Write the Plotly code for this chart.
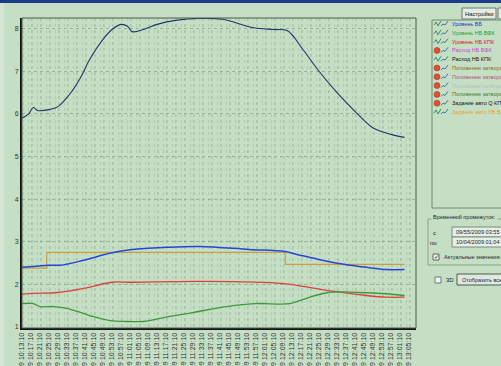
import plotly.graph_objects as go

DATE = "2009-10-04 "

# Series (times HH:MM, seconds :10)
top_t = ["10:13","10:16","10:18","10:20","10:25","10:29","10:34","10:39","10:43","10:49","10:53","10:57","11:00","11:02","11:07","11:13","11:22","11:32","11:42","11:56","12:05","12:11","12:18","12:25","12:33","12:44","12:45","12:49","12:57","13:03"]
top_v = [5.9,6.0,6.15,6.08,6.1,6.17,6.45,6.85,7.27,7.75,7.98,8.1,8.05,7.93,7.98,8.1,8.2,8.24,8.22,8.02,7.98,7.95,7.5,7.0,6.5,5.9,5.85,5.67,5.52,5.45]

blue_t = ["10:13","10:18","10:25","10:30","10:40","10:52","11:02","11:17","11:32","11:54","12:10","12:17","12:27","12:36","12:46","12:55","13:03"]
blue_v = [2.4,2.42,2.45,2.45,2.56,2.73,2.82,2.87,2.89,2.82,2.77,2.68,2.56,2.47,2.4,2.35,2.35]

tan_t = ["10:13","10:24","12:10","13:03"]
tan_v = [2.38,2.75,2.47,2.47]

red_t = ["10:13","10:18","10:29","10:40","10:53","11:02","11:32","12:09","12:24","12:31","12:46","12:55","13:03"]
red_v = [1.77,1.79,1.81,1.9,2.05,2.05,2.07,2.02,1.9,1.84,1.74,1.7,1.7]

green_t = ["10:13","10:18","10:21","10:27","10:33","10:43","10:52","11:00","11:07","11:17","11:25","11:32","11:47","11:57","12:12","12:18","12:29","12:43","12:55","13:03"]
green_v = [1.55,1.55,1.48,1.48,1.44,1.27,1.15,1.13,1.13,1.23,1.3,1.37,1.5,1.55,1.55,1.65,1.81,1.81,1.78,1.74]

legend_names = ["Уровень ВБ","Уровень НБ ВФК","Уровень НБ КПК","Расход НБ ВФК","Расход НБ КПК",
                "Положение затвора","Положение затвора","Положение затвора","Положение затвора",
                "Задание авто Q КПК","Задание авто УВ ВФК"]
legend_colors = ["#1f2fd0","#2e9a2e","#d02020","#d040d0","#111111",
                 "#8a6a30","#b05080","#b8c0b8","#4a7a3a","#111111","#f0a020"]
legend_icon_red = [False,False,False,True,False,True,True,True,True,True,False]

def ts(lst):
    return [DATE + t + ":10" for t in lst]

BG = "#c5dfc5"
fig = go.Figure()
fig.add_trace(go.Scatter(x=ts(top_t), y=top_v, mode="lines", line=dict(color="#23336e", width=1.1), line_shape="spline"))
fig.add_trace(go.Scatter(x=ts(tan_t), y=tan_v, mode="lines", line=dict(color="#c8a040", width=1.2), line_shape="hv"))
fig.add_trace(go.Scatter(x=ts(blue_t), y=blue_v, mode="lines", line=dict(color="#2a44d8", width=1.5), line_shape="spline"))
fig.add_trace(go.Scatter(x=ts(red_t), y=red_v, mode="lines", line=dict(color="#e04040", width=1.3), line_shape="spline"))
fig.add_trace(go.Scatter(x=ts(green_t), y=green_v, mode="lines", line=dict(color="#3a9a3a", width=1.3), line_shape="spline"))

L, R, T, B = 22, 416, 18, 328
def px(x):
    return (x - L) / (R - L)
def py(y):
    return (B - y) / (B - T)

shapes = []
annots = []
# title bar and left window edge
shapes.append(dict(type="rect", xref="paper", yref="paper", x0=px(0), x1=px(501), y0=py(3), y1=py(0),
                   fillcolor="#1c3a8a", line=dict(width=0), layer="below"))
shapes.append(dict(type="rect", xref="paper", yref="paper", x0=px(0), x1=px(4), y0=py(366), y1=py(3),
                   fillcolor="#d6e4d6", line=dict(width=0), layer="below"))
# Настройки button
shapes.append(dict(type="rect", xref="paper", yref="paper", x0=px(462), x1=px(496), y0=py(19), y1=py(8),
                   fillcolor="#e4ece4", line=dict(color="#6a7a6a", width=1)))
annots.append(dict(x=px(479), y=py(13.5), xref="paper", yref="paper", text="Настройки", showarrow=False,
                   font=dict(size=5.8, color="#111"), xanchor="center", yanchor="middle"))
shapes.append(dict(type="rect", xref="paper", yref="paper", x0=px(498), x1=px(505), y0=py(19), y1=py(8),
                   fillcolor="#e4ece4", line=dict(color="#6a7a6a", width=1)))
# list box
shapes.append(dict(type="rect", xref="paper", yref="paper", x0=px(432), x1=px(510), y0=py(208), y1=py(20),
                   fillcolor=BG, line=dict(color="#6f8a6f", width=1)))
for i, (nm, col, red) in enumerate(zip(legend_names, legend_colors, legend_icon_red)):
    yy = 24 + i * 8.8
    if red:
        shapes.append(dict(type="circle", xref="paper", yref="paper", x0=px(434), x1=px(440), y0=py(yy + 3), y1=py(yy - 3),
                           fillcolor="#e05030", line=dict(color="#a03020", width=0.5)))
    else:
        shapes.append(dict(type="path", xref="paper", yref="paper",
                           path=f"M {px(434)} {py(yy+1)} L {px(436)} {py(yy-2)} L {px(438)} {py(yy+2)} L {px(441)} {py(yy-3)}",
                           line=dict(color="#3a8a6a", width=1)))
    shapes.append(dict(type="path", xref="paper", yref="paper",
                       path=f"M {px(441)} {py(yy+2)} L {px(443)} {py(yy)} L {px(445)} {py(yy+1)} L {px(448)} {py(yy-3)}",
                       line=dict(color="#3a7a9a", width=1)))
    annots.append(dict(x=px(450), y=py(yy), xref="paper", yref="paper", text=nm, showarrow=False,
                       font=dict(size=5.5, color=col), xanchor="left", yanchor="middle"))
# group box
shapes.append(dict(type="rect", xref="paper", yref="paper", x0=px(428), x1=px(510), y0=py(265), y1=py(219),
                   fillcolor="rgba(0,0,0,0)", line=dict(color="#8aa08a", width=1)))
annots.append(dict(x=px(431), y=py(217), xref="paper", yref="paper", text="Временной промежуток:", showarrow=False,
                   font=dict(size=5.5, color="#223"), xanchor="left", yanchor="middle", bgcolor=BG))
annots.append(dict(x=px(431), y=py(232), xref="paper", yref="paper", text="с", showarrow=False,
                   font=dict(size=6.2, color="#223"), xanchor="left", yanchor="middle"))
annots.append(dict(x=px(428), y=py(242), xref="paper", yref="paper", text="по", showarrow=False,
                   font=dict(size=6.2, color="#223"), xanchor="left", yanchor="middle"))
for (y0, y1, txt) in [(227, 237, "09/55/2009 03:55"), (237, 247, "10/04/2009 01:04")]:
    shapes.append(dict(type="rect", xref="paper", yref="paper", x0=px(452), x1=px(510), y0=py(y1), y1=py(y0),
                       fillcolor="#e6efe6", line=dict(color="#7a8a7a", width=1)))
    annots.append(dict(x=px(454), y=py((y0 + y1) / 2), xref="paper", yref="paper", text=txt, showarrow=False,
                       font=dict(size=5.6, color="#222"), xanchor="left", yanchor="middle"))
shapes.append(dict(type="rect", xref="paper", yref="paper", x0=px(433), x1=px(439), y0=py(260), y1=py(254),
                   fillcolor="#eef4ee", line=dict(color="#5a6a5a", width=1)))
annots.append(dict(x=px(436), y=py(257), xref="paper", yref="paper", text="✓", showarrow=False,
                   font=dict(size=6, color="#111"), xanchor="center", yanchor="middle"))
annots.append(dict(x=px(442), y=py(257), xref="paper", yref="paper", text="Актуальные значения", showarrow=False,
                   font=dict(size=5.5, color="#223"), xanchor="left", yanchor="middle"))
# 3D checkbox and button
shapes.append(dict(type="rect", xref="paper", yref="paper", x0=px(435), x1=px(441), y0=py(283), y1=py(277),
                   fillcolor="#f4f8f4", line=dict(color="#6a7a6a", width=1)))
annots.append(dict(x=px(444), y=py(280), xref="paper", yref="paper", text="3D", showarrow=False,
                   font=dict(size=6, color="#223"), xanchor="left", yanchor="middle"))
shapes.append(dict(type="rect", xref="paper", yref="paper", x0=px(457), x1=px(510), y0=py(285), y1=py(274),
                   fillcolor="#dfe8df", line=dict(color="#4a5a4a", width=1)))
annots.append(dict(x=px(460), y=py(279.5), xref="paper", yref="paper", text="Отобразить все", showarrow=False,
                   font=dict(size=5.5, color="#223"), xanchor="left", yanchor="middle"))
# plot border (top/right)
shapes.append(dict(type="rect", xref="paper", yref="paper", x0=0, x1=1, y0=0, y1=1,
                   line=dict(color="#4a5a4a", width=1), fillcolor="rgba(0,0,0,0)"))

fig.update_layout(
    width=501, height=366,
    margin=dict(l=L, r=501 - R, t=T, b=366 - B, autoexpand=False),
    paper_bgcolor=BG, plot_bgcolor=BG,
    showlegend=False,
    font=dict(family="Liberation Sans, Arial", size=7, color="#222"),
    shapes=shapes, annotations=annots,
    xaxis=dict(type="date", automargin=False,
               range=[DATE + "10:13:10", DATE + "13:08:16"],
               tick0=DATE + "10:13:10", dtick=240000,
               tickformat="%d.%m.%Y %H:%M:%S", tickangle=-90,
               tickfont=dict(size=7, color="#333"),
               showgrid=True, gridcolor="#acc6ac", griddash="dot", gridwidth=1,
               minor=dict(dtick=120000, showgrid=True, gridcolor="#b2ccb2", griddash="dot", gridwidth=1),
               showline=True, linecolor="#111", linewidth=2, ticks="", zeroline=False),
    yaxis=dict(range=[0.977, 8.25], dtick=1, tick0=1, automargin=False,
               tickfont=dict(size=7, color="#333"),
               showgrid=True, gridcolor="#98b298", griddash="dot", gridwidth=1,
               showline=True, linecolor="#111", linewidth=2, ticks="", zeroline=False),
)

fig.write_html("out.html", config={"displayModeBar": False},
               post_script="document.body.style.margin='0';document.body.style.overflow='hidden';")
